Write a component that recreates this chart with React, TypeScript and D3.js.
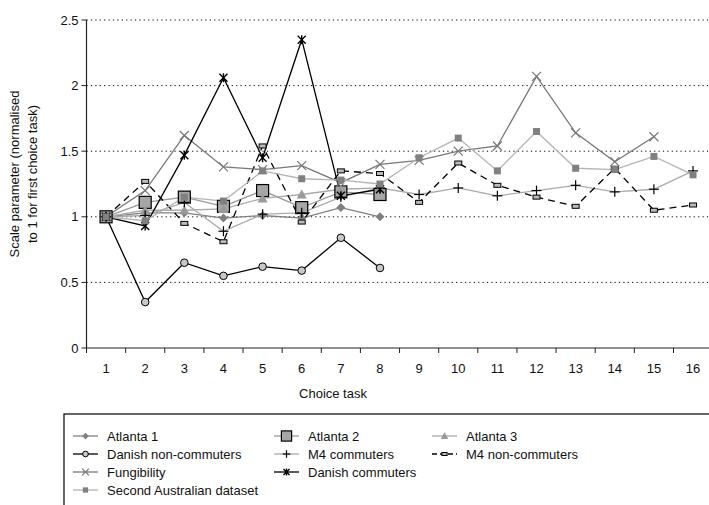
import * as d3 from 'd3'

const categories = ['1', '2', '3', '4', '5', '6', '7', '8', '9', '10', '11', '12', '13', '14', '15', '16']
const yTicks = [0, 0.5, 1, 1.5, 2, 2.5]

const atlanta1 = [1, 1.03, 1.03, 0.99, 1.01, 0.99, 1.07, 1.0]
const atlanta2 = [1, 1.11, 1.15, 1.08, 1.2, 1.07, 1.19, 1.17]
const atlanta3 = [1, 1.05, 1.05, 1.06, 1.14, 1.17, 1.21, 1.22]
const danishNonCommuters = [1, 0.35, 0.65, 0.55, 0.62, 0.59, 0.84, 0.61]
const m4Commuters = [1, 1.01, 1.11, 0.89, 1.02, 1.03, 1.15, 1.22, 1.17, 1.22, 1.16, 1.2, 1.24, 1.19, 1.21, 1.35]
const m4NonCommuters = [1, 1.27, 0.95, 0.81, 1.54, 0.96, 1.35, 1.33, 1.11, 1.41, 1.24, 1.15, 1.08, 1.37, 1.05, 1.09]
const fungibility = [1, 1.2, 1.62, 1.38, 1.36, 1.39, 1.26, 1.4, 1.43, 1.5, 1.54, 2.07, 1.64, 1.42, 1.61]
const danishCommuters = [1, 0.93, 1.47, 2.06, 1.45, 2.35, 1.16, 1.21]
const secondAustralian = [1, 0.97, 1.15, 1.12, 1.35, 1.29, 1.28, 1.25, 1.45, 1.6, 1.35, 1.65, 1.37, 1.36, 1.46, 1.32]

type Marker = 'diamond' | 'bigSquare' | 'triangle' | 'circle' | 'plus' | 'rect' | 'cross' | 'asterisk' | 'square'

interface Series {
  name: string
  values: number[]
  line: string
  dash?: string
  marker: Marker
  slot: number // legend slot, three per row
}

const series: Series[] = [
  { name: 'Atlanta 1', values: atlanta1, line: '#808080', marker: 'diamond', slot: 0 },
  { name: 'Atlanta 2', values: atlanta2, line: '#999999', marker: 'bigSquare', slot: 1 },
  { name: 'Atlanta 3', values: atlanta3, line: '#aaaaaa', marker: 'triangle', slot: 2 },
  { name: 'Danish non-commuters', values: danishNonCommuters, line: '#000000', marker: 'circle', slot: 3 },
  { name: 'M4 commuters', values: m4Commuters, line: '#aaaaaa', marker: 'plus', slot: 4 },
  { name: 'M4 non-commuters', values: m4NonCommuters, line: '#000000', dash: '7,5', marker: 'rect', slot: 5 },
  { name: 'Fungibility', values: fungibility, line: '#777777', marker: 'cross', slot: 6 },
  { name: 'Danish commuters', values: danishCommuters, line: '#000000', marker: 'asterisk', slot: 7 },
  { name: 'Second Australian dataset', values: secondAustralian, line: '#b4b4b4', marker: 'square', slot: 9 },
]

const W = 709
const H = 505
const PLOT = { left: 86.5, right: 712.6, top: 20, bottom: 348 }
const FONT = '"Liberation Sans", Arial, Helvetica, sans-serif'

function MarkerShape({ type, cx, cy, k = 1 }: { type: Marker; cx: number; cy: number; k?: number }) {
  switch (type) {
    case 'diamond': {
      const r = 4.5 * k
      return <path d={`M${cx},${cy - r}L${cx + r},${cy}L${cx},${cy + r}L${cx - r},${cy}Z`} fill="#808080" />
    }
    case 'bigSquare': {
      const r = 6 * k
      return <rect x={cx - r} y={cy - r} width={2 * r} height={2 * r} fill="#a6a6a6" stroke="#000" strokeWidth={1.2} />
    }
    case 'triangle': {
      const r = 5 * k
      return <path d={`M${cx},${cy - r}L${cx + r},${cy + r * 0.8}L${cx - r},${cy + r * 0.8}Z`} fill="#9a9a9a" />
    }
    case 'circle':
      return <circle cx={cx} cy={cy} r={3.8 * k} fill="#c8c8c8" stroke="#000" strokeWidth={1} />
    case 'plus': {
      const r = 5 * k
      return (
        <g stroke="#000" strokeWidth={1.2}>
          <line x1={cx - r} x2={cx + r} y1={cy} y2={cy} />
          <line x1={cx} x2={cx} y1={cy - r} y2={cy + r} />
        </g>
      )
    }
    case 'rect':
      return <rect x={cx - 3.5 * k} y={cy - 2 * k} width={7 * k} height={4 * k} fill="#bbbbbb" stroke="#000" strokeWidth={1} />
    case 'cross': {
      const r = 4.5 * k
      return (
        <g stroke="#777" strokeWidth={1.2}>
          <line x1={cx - r} x2={cx + r} y1={cy - r} y2={cy + r} />
          <line x1={cx - r} x2={cx + r} y1={cy + r} y2={cy - r} />
        </g>
      )
    }
    case 'asterisk': {
      const r = 4 * k
      return (
        <g stroke="#000" strokeWidth={1.4}>
          <line x1={cx - r} x2={cx + r} y1={cy - r} y2={cy + r} />
          <line x1={cx - r} x2={cx + r} y1={cy + r} y2={cy - r} />
          <line x1={cx} x2={cx} y1={cy - r - 0.5} y2={cy + r + 0.5} />
        </g>
      )
    }
    case 'square': {
      const r = 3.5 * k
      return <rect x={cx - r} y={cy - r} width={2 * r} height={2 * r} fill="#808080" />
    }
  }
}

export default function App() {
  const x = d3.scaleBand<string>().domain(categories).range([PLOT.left, PLOT.right]).padding(0)
  const y = d3.scaleLinear().domain([0, 2.5]).range([PLOT.bottom, PLOT.top])
  const cx = (i: number) => (x(categories[i]) ?? 0) + x.bandwidth() / 2

  const line = d3
    .line<number>()
    .x((_, i) => cx(i))
    .y(d => y(d))

  const tickBounds = categories.map(c => x(c) ?? 0)

  // legend layout: three columns, row-major
  const legendCols = [73, 274, 432]
  const legendRow0 = 436
  const legendRowH = 18

  return (
    <svg
      width={W}
      height={H}
      style={{ position: 'absolute', left: 0, top: 0, background: '#fff' }}
      fontFamily={FONT}
    >
      {/* gridlines */}
      {yTicks.filter(t => t > 0).map(t => (
        <line
          key={`g${t}`}
          x1={PLOT.left}
          x2={PLOT.right}
          y1={y(t)}
          y2={y(t)}
          stroke="#000"
          strokeWidth={1}
          strokeDasharray="1.2,3.2"
        />
      ))}

      {/* y axis */}
      <line x1={PLOT.left} x2={PLOT.left} y1={PLOT.top} y2={PLOT.bottom} stroke="#222" strokeWidth={1.2} />
      {yTicks.map(t => (
        <g key={`y${t}`}>
          <line x1={PLOT.left - 5} x2={PLOT.left} y1={y(t)} y2={y(t)} stroke="#222" />
          <text x={PLOT.left - 8} y={y(t)} dy="0.35em" textAnchor="end" fontSize={13} fill="#111">
            {t}
          </text>
        </g>
      ))}

      {/* x axis */}
      <line x1={PLOT.left} x2={PLOT.right} y1={PLOT.bottom} y2={PLOT.bottom} stroke="#222" strokeWidth={1.2} />
      {tickBounds.map((b, i) => (
        <line key={`xt${i}`} x1={b} x2={b} y1={PLOT.bottom} y2={PLOT.bottom + 5} stroke="#222" />
      ))}
      {categories.map((c, i) => (
        <text key={`xl${c}`} x={cx(i)} y={373} textAnchor="middle" fontSize={13} fill="#111">
          {c}
        </text>
      ))}

      {/* axis titles */}
      <text x={333} y={398} textAnchor="middle" fontSize={13} fill="#111">
        Choice task
      </text>
      <text transform="translate(19,174) rotate(-90)" textAnchor="middle" fontSize={13} fill="#111">
        Scale parameter (normalised
      </text>
      <text transform="translate(37,174) rotate(-90)" textAnchor="middle" fontSize={13} fill="#111">
        to 1 for first choice task)
      </text>

      {/* series */}
      {series.map(s => (
        <path
          key={`l${s.name}`}
          d={line(s.values) ?? ''}
          fill="none"
          stroke={s.line}
          strokeWidth={1.3}
          strokeDasharray={s.dash}
        />
      ))}
      {series.map(s => (
        <g key={`m${s.name}`}>
          {s.values.map((v, i) => (
            <MarkerShape key={i} type={s.marker} cx={cx(i)} cy={y(v)} />
          ))}
        </g>
      ))}

      {/* legend */}
      <rect x={64} y={414} width={660} height={120} fill="none" stroke="#000" strokeWidth={1.2} />
      {series.map(s => {
        const col = s.slot % 3
        const row = Math.floor(s.slot / 3)
        const lx = legendCols[col]
        const ly = legendRow0 + row * legendRowH
        return (
          <g key={`lg${s.name}`}>
            <line
              x1={lx}
              x2={lx + 25}
              y1={ly}
              y2={ly}
              stroke={s.line}
              strokeWidth={1.3}
              strokeDasharray={s.dash ? '5,3' : undefined}
            />
            <MarkerShape type={s.marker} cx={lx + 12.5} cy={ly} k={s.marker === 'bigSquare' ? 0.85 : 0.75} />
            <text x={lx + 34} y={ly} dy="0.35em" fontSize={13} fill="#111">
              {s.name}
            </text>
          </g>
        )
      })}
    </svg>
  )
}
